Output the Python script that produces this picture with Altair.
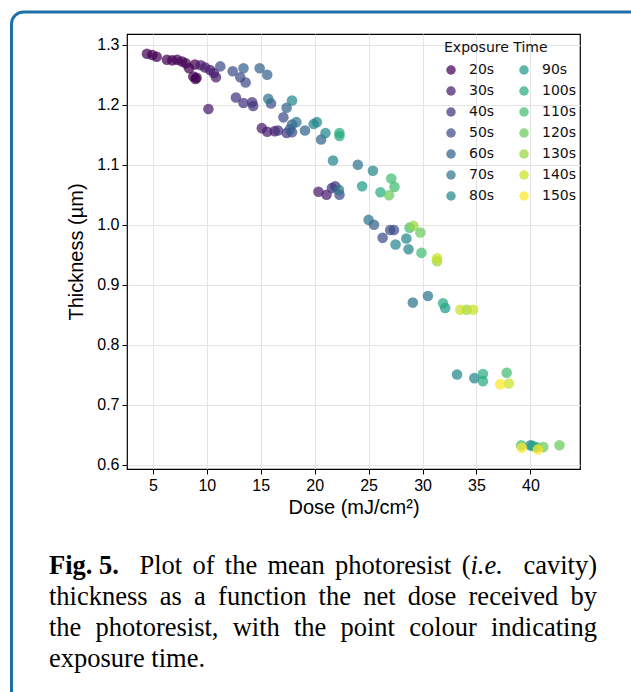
import altair as alt
import pandas as pd
import numpy as np

# ---------------- data ----------------
EXPOSURE_TIMES = [20, 30, 40, 50, 60, 70, 80, 90, 100, 110, 120, 130, 140, 150]

DOSE_20 = [4.45, 4.95, 5.35, 6.3, 6.8, 7.25, 7.7, 8.05, 8.35, 8.9, 8.75, 8.95, 9.05]
THICK_20 = [1.285, 1.283, 1.280, 1.275, 1.274, 1.275, 1.272, 1.269, 1.261, 1.267, 1.247, 1.243, 1.245]

DOSE_30 = [9.45, 9.85, 10.3, 10.65, 10.85, 10.15, 15.1, 15.6, 16.3, 20.35, 21.1]
THICK_30 = [1.266, 1.262, 1.258, 1.253, 1.246, 1.193, 1.161, 1.155, 1.156, 1.055, 1.050]

DOSE_40 = [12.7, 13.4, 14.2, 14.3, 16.6, 17.4, 21.6, 21.9]
THICK_40 = [1.212, 1.203, 1.204, 1.198, 1.157, 1.153, 1.061, 1.064]

DOSE_50 = [11.25, 12.4, 13.1, 13.6, 15.95, 17.1, 17.9, 22.3, 26.3, 27.0, 27.35]
THICK_50 = [1.264, 1.256, 1.246, 1.237, 1.202, 1.179, 1.154, 1.050, 0.978, 0.991, 0.991]

DOSE_60 = [13.4, 14.9, 15.6, 17.4, 17.9, 17.7, 19.1, 20.6, 25.5]
THICK_60 = [1.261, 1.261, 1.250, 1.195, 1.167, 1.159, 1.157, 1.142, 1.000]

DOSE_70 = [15.7, 18.3, 22.25, 24.0, 25.0, 29.1, 30.5]
THICK_70 = [1.210, 1.171, 1.058, 1.100, 1.008, 0.870, 0.881]

DOSE_80 = [17.9, 19.9, 20.2, 21.0, 21.7, 25.4, 27.5, 28.5, 28.7, 33.2, 34.8, 40.0]
THICK_80 = [1.207, 1.168, 1.171, 1.153, 1.107, 1.090, 0.967, 0.977, 0.959, 0.750, 0.744, 0.632]

DOSE_90 = [24.4, 32.1, 40.2]
THICK_90 = [1.064, 0.861, 0.631]

DOSE_100 = [22.3, 22.3, 26.1, 31.9, 35.6, 35.6, 40.55]
THICK_100 = [1.153, 1.148, 1.054, 0.869, 0.751, 0.739, 0.629]

DOSE_110 = [27.1, 27.4, 28.8, 29.9, 37.8, 39.15]
THICK_110 = [1.077, 1.063, 0.995, 0.953, 0.753, 0.632]

DOSE_120 = [26.9, 29.8, 41.2, 42.7]
THICK_120 = [1.049, 0.987, 0.629, 0.632]

DOSE_130 = [29.15, 31.35, 34.1]
THICK_130 = [0.998, 0.939, 0.858]

DOSE_140 = [31.35, 33.5, 34.7, 38.0]
THICK_140 = [0.944, 0.858, 0.858, 0.735]

DOSE_150 = [37.2, 39.2, 40.7]
THICK_150 = [0.734, 0.628, 0.625]

X_TICKS = [5, 10, 15, 20, 25, 30, 35, 40]
Y_TICKS = [0.6, 0.7, 0.8, 0.9, 1.0, 1.1, 1.2, 1.3]

CAPTION = [
    [("Fig. 5.", "b", 0), ("Plot", "r", 2), ("of", "r", 1), ("the", "r", 1), ("mean", "r", 1),
     ("photoresist", "r", 1), ("(", "r", 1), ("i.e.", "i", 0), ("cavity)", "r", 2)],
    [(w, "r", 1 if k else 0) for k, w in enumerate("thickness as a function the net dose received by".split())],
    [(w, "r", 1 if k else 0) for k, w in enumerate("the photoresist, with the point colour indicating".split())],
    [("exposure", "r", 0), ("time.", "r", 1)],
]
JUSTIFY = [True, True, True, False]

# ---------------- build table ----------------
groups = {
    20: (DOSE_20, THICK_20), 30: (DOSE_30, THICK_30), 40: (DOSE_40, THICK_40),
    50: (DOSE_50, THICK_50), 60: (DOSE_60, THICK_60), 70: (DOSE_70, THICK_70),
    80: (DOSE_80, THICK_80), 90: (DOSE_90, THICK_90), 100: (DOSE_100, THICK_100),
    110: (DOSE_110, THICK_110), 120: (DOSE_120, THICK_120), 130: (DOSE_130, THICK_130),
    140: (DOSE_140, THICK_140), 150: (DOSE_150, THICK_150),
}
rows = []
for t in EXPOSURE_TIMES:
    d, th = groups[t]
    for a, b in zip(d, th):
        rows.append({"dose": a, "thickness": b, "exposure": f"{t}s"})
df = pd.DataFrame(rows)

# viridis colours
VIRIDIS_KEYS = ["#440154", "#482475", "#414487", "#355f8d", "#2a788e", "#21918c",
                "#22a884", "#44bf70", "#7ad151", "#bddf26", "#fde725"]
key_rgb = np.array([[int(h[i:i + 2], 16) for i in (1, 3, 5)] for h in VIRIDIS_KEYS], dtype=float)
key_pos = np.linspace(0, 1, len(VIRIDIS_KEYS))


def viridis(u):
    rgb = [np.interp(u, key_pos, key_rgb[:, c]) for c in range(3)]
    return "#" + "".join(f"{int(round(v)):02x}" for v in rgb)


labels = [f"{t}s" for t in EXPOSURE_TIMES]
colors = [viridis((t - EXPOSURE_TIMES[0]) / (EXPOSURE_TIMES[-1] - EXPOSURE_TIMES[0])) for t in EXPOSURE_TIMES]

# ---------------- layout constants ----------------
PAD_L, PAD_T = 127, 34
PLOT_W, PLOT_H = 453, 435
PAD_R = 631 - PAD_L - PLOT_W
PAD_B = 692 - PAD_T - PLOT_H

# caption layout (Times metrics, per 1000 em)
FS = 26.5
W_R = {"a": 444, "b": 500, "c": 444, "d": 500, "e": 444, "f": 333, "g": 500, "h": 500, "i": 278,
       "k": 500, "l": 278, "m": 778, "n": 500, "o": 500, "p": 500, "r": 333, "s": 389, "t": 278,
       "u": 500, "v": 500, "w": 722, "x": 500, "y": 500, "P": 556, "(": 333, ")": 333, ".": 250,
       ",": 250, " ": 250}
W_B = {"F": 611, "i": 278, "g": 500, ".": 250, " ": 250, "5": 500}
W_I = {"i": 278, "e": 444, ".": 250}
TABLES = {"r": W_R, "b": W_B, "i": W_I}


def tw(text, style):
    return sum(TABLES[style].get(ch, 500) for ch in text) / 1000 * FS


CAP_LEFT, CAP_RIGHT = 49, 597
BASELINES = [574, 605, 636, 667]
cap_rows = []
for line, just, base in zip(CAPTION, JUSTIFY, BASELINES):
    widths = [tw(w, s) for w, s, _ in line]
    weights = sum(g for _, _, g in line)
    if just:
        gap = (CAP_RIGHT - CAP_LEFT - sum(widths)) / weights
    else:
        gap = 0.25 * FS
    x = CAP_LEFT
    for (w, s, g), wd in zip(line, widths):
        x += g * gap
        cap_rows.append({"px": x - PAD_L, "py": base - PAD_T, "text": w, "style": s})
        x += wd
cap_df = pd.DataFrame(cap_rows)

# ---------------- charts ----------------
border = alt.Chart(pd.DataFrame({"k": [0]})).mark_rect(
    fill="white", fillOpacity=0, stroke="#1f6fab", strokeWidth=3, cornerRadius=12
).encode(
    x=alt.value(11.5 - PAD_L), x2=alt.value(760), y=alt.value(12 - PAD_T), y2=alt.value(800)
)

scatter = alt.Chart(df).mark_circle(size=112, opacity=0.72).encode(
    x=alt.X("dose:Q",
            scale=alt.Scale(domain=[2.6, 44.6], nice=False, zero=False),
            axis=alt.Axis(values=X_TICKS, format="d", title="Dose (mJ/cm²)", titlePadding=4)),
    y=alt.Y("thickness:Q",
            scale=alt.Scale(domain=[0.5925, 1.318], nice=False, zero=False),
            axis=alt.Axis(values=Y_TICKS, format=".1f", title="Thickness (µm)", titlePadding=10)),
    color=alt.Color("exposure:N",
                    scale=alt.Scale(domain=labels, range=colors),
                    legend=alt.Legend(title="Exposure Time", orient="none", legendX=317, legendY=7,
                                      columns=2, columnPadding=22, rowPadding=7,
                                      symbolType="circle", symbolSize=90, symbolOpacity=0.72,
                                      symbolStrokeWidth=0, labelOffset=11,
                                      labelFont="DejaVu Sans", labelFontSize=14, labelColor="#111111",
                                      titleFont="DejaVu Sans", titleFontSize=14, titleFontWeight="normal",
                                      titleColor="#111111", titlePadding=8, padding=0)),
)


def text_layer(style, **kw):
    return alt.Chart(cap_df[cap_df["style"] == style]).mark_text(
        align="left", baseline="alphabetic", font="Liberation Serif", fontSize=FS, color="black", **kw
    ).encode(
        x=alt.X("px:Q", scale=None, axis=None),
        y=alt.Y("py:Q", scale=None, axis=None),
        text="text:N",
    )


cap_r = text_layer("r")
cap_b = text_layer("b", fontWeight="bold")
cap_i = text_layer("i", fontStyle="italic")

chart = alt.layer(border, scatter, cap_r, cap_b, cap_i).resolve_scale(
    x="independent", y="independent"
).properties(
    width=PLOT_W, height=PLOT_H,
    autosize=alt.AutoSizeParams(type="none"),
    padding={"left": PAD_L, "top": PAD_T, "right": PAD_R, "bottom": PAD_B},
    background="white",
).configure_view(
    stroke="black", strokeWidth=1.2
).configure_axis(
    grid=True, gridColor="#e4e4e4", gridWidth=1,
    domain=False, ticks=True, tickColor="black", tickSize=5, tickWidth=1,
    labelFont="Liberation Sans", labelFontSize=16, labelColor="black", labelPadding=3,
    titleFont="Liberation Sans", titleFontSize=20, titleFontWeight="normal", titleColor="black",
)

chart.save("out.html", embed_options={"renderer": "svg", "actions": False})
